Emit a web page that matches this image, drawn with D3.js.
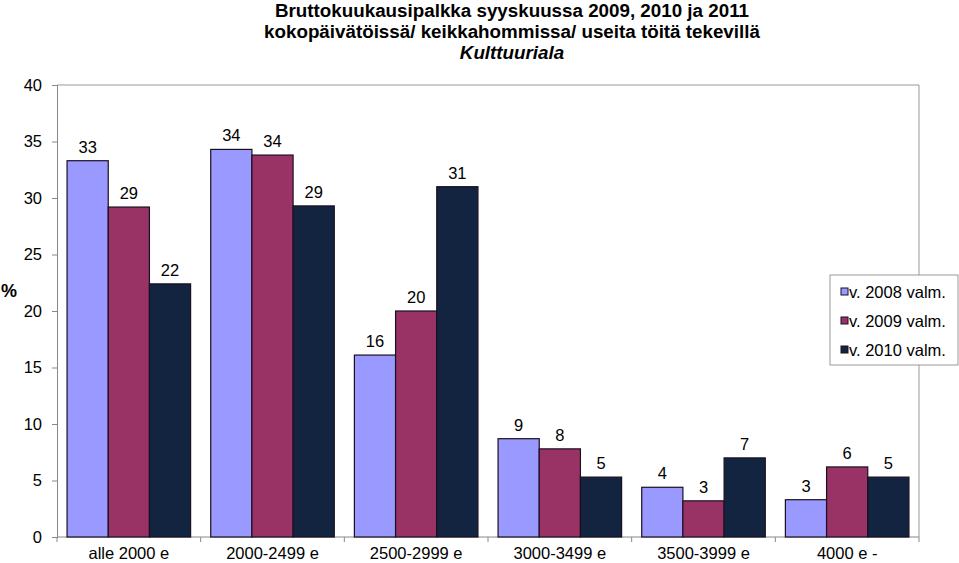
<!DOCTYPE html>
<html><head><meta charset="utf-8">
<script src="https://cdn.jsdelivr.net/npm/d3@7"></script>
<style>body{margin:0;background:#fff}svg{display:block}text{font-family:"Liberation Sans",Arial,sans-serif}</style>
</head><body><svg id="c" width="959" height="563"></svg>
<script>
const categories = ["alle 2000 e","2000-2499 e","2500-2999 e","3000-3499 e","3500-3999 e","4000 e -"];
const seriesNames = ["v. 2008 valm.","v. 2009 valm.","v. 2010 valm."];
const s2008 = [33.3, 34.3, 16.1, 8.7, 4.4, 3.3];
const s2009 = [29.2, 33.8, 20.0, 7.8, 3.2, 6.2];
const s2010 = [22.4, 29.3, 31.0, 5.3, 7.0, 5.3];
const colors = ["#9999ff","#993366","#12243f"];
const yTicks = [0,5,10,15,20,25,30,35,40];
const titleLines = ["Bruttokuukausipalkka syyskuussa 2009, 2010 ja 2011","kokopäivätöissä/ keikkahommissa/ useita töitä tekevillä","Kulttuuriala"];

const FS = 16.5;
const svg = d3.select("#c");
const L=57, R=919, T=85, B=537;
const x = d3.scaleBand().domain(categories).range([L,R]).paddingInner(0.14).paddingOuter(0.07);
const xs = d3.scaleBand().domain([0,1,2]).range([0,x.bandwidth()]);
const y = d3.scaleLinear().domain([0,40]).range([B,T]);

// plot frame (top & right)
svg.append("path").attr("d",`M${L},${T}H${R}V${B}`).attr("fill","none").attr("stroke","#999").attr("stroke-width",1);

// y axis
const ya = svg.append("g").attr("transform",`translate(${L},0)`).call(d3.axisLeft(y).tickValues(yTicks).tickSize(5).tickPadding(10));
ya.select(".domain").attr("stroke","#888");
ya.selectAll(".tick line").attr("stroke","#888");
ya.selectAll("text").attr("font-size",FS).attr("fill","#000").style("font-family","'Liberation Sans',Arial,sans-serif");

// x axis
const xa = svg.append("g").attr("transform",`translate(0,${B})`);
xa.append("line").attr("x1",L).attr("x2",R).attr("stroke","#888");
const bounds = d3.range(categories.length+1).map(i=>L+i*(R-L)/categories.length);
xa.selectAll("line.t").data(bounds).join("line").attr("class","t").attr("x1",d=>d).attr("x2",d=>d).attr("y1",0).attr("y2",5).attr("stroke","#888");
xa.selectAll("text").data(categories).join("text").attr("x",d=>x(d)+x.bandwidth()/2).attr("y",22).attr("text-anchor","middle").attr("font-size",FS).text(d=>d);

// bars
const series=[s2008,s2009,s2010];
series.forEach((s,si)=>{
  const g=svg.append("g");
  g.selectAll("rect").data(s).join("rect")
   .attr("x",(d,i)=>x(categories[i])+xs(si)).attr("width",xs.bandwidth())
   .attr("y",d=>y(d)).attr("height",d=>B-y(d))
   .attr("fill",colors[si]).attr("stroke","#1a1020").attr("stroke-width",1.2);
  g.selectAll("text").data(s).join("text")
   .attr("x",(d,i)=>x(categories[i])+xs(si)+xs.bandwidth()/2).attr("y",d=>y(d)-8)
   .attr("text-anchor","middle").attr("font-size",FS).text(d=>d3.format(".0f")(d));
});

// y label
svg.append("text").attr("x",9).attr("y",297).attr("text-anchor","middle").attr("font-size",18).attr("font-weight","bold").text("%");

// title
titleLines.forEach((t,i)=>{
  svg.append("text").attr("x",512).attr("y",17+i*21).attr("text-anchor","middle").attr("font-size",18.8)
   .attr("font-weight","bold").attr("font-style",i==2?"italic":"normal").text(t);
});

// legend
const lg=svg.append("g");
lg.append("rect").attr("x",830).attr("y",275).attr("width",128).attr("height",90).attr("fill","#fff").attr("stroke","#999");
seriesNames.forEach((n,i)=>{
  const yy=292+i*29;
  lg.append("rect").attr("x",841).attr("y",yy-4).attr("width",7).attr("height",7).attr("fill",colors[i]).attr("stroke","#1a1020");
  lg.append("text").attr("x",849).attr("y",yy+6).attr("font-size",FS).text(n);
});
</script></body></html>
